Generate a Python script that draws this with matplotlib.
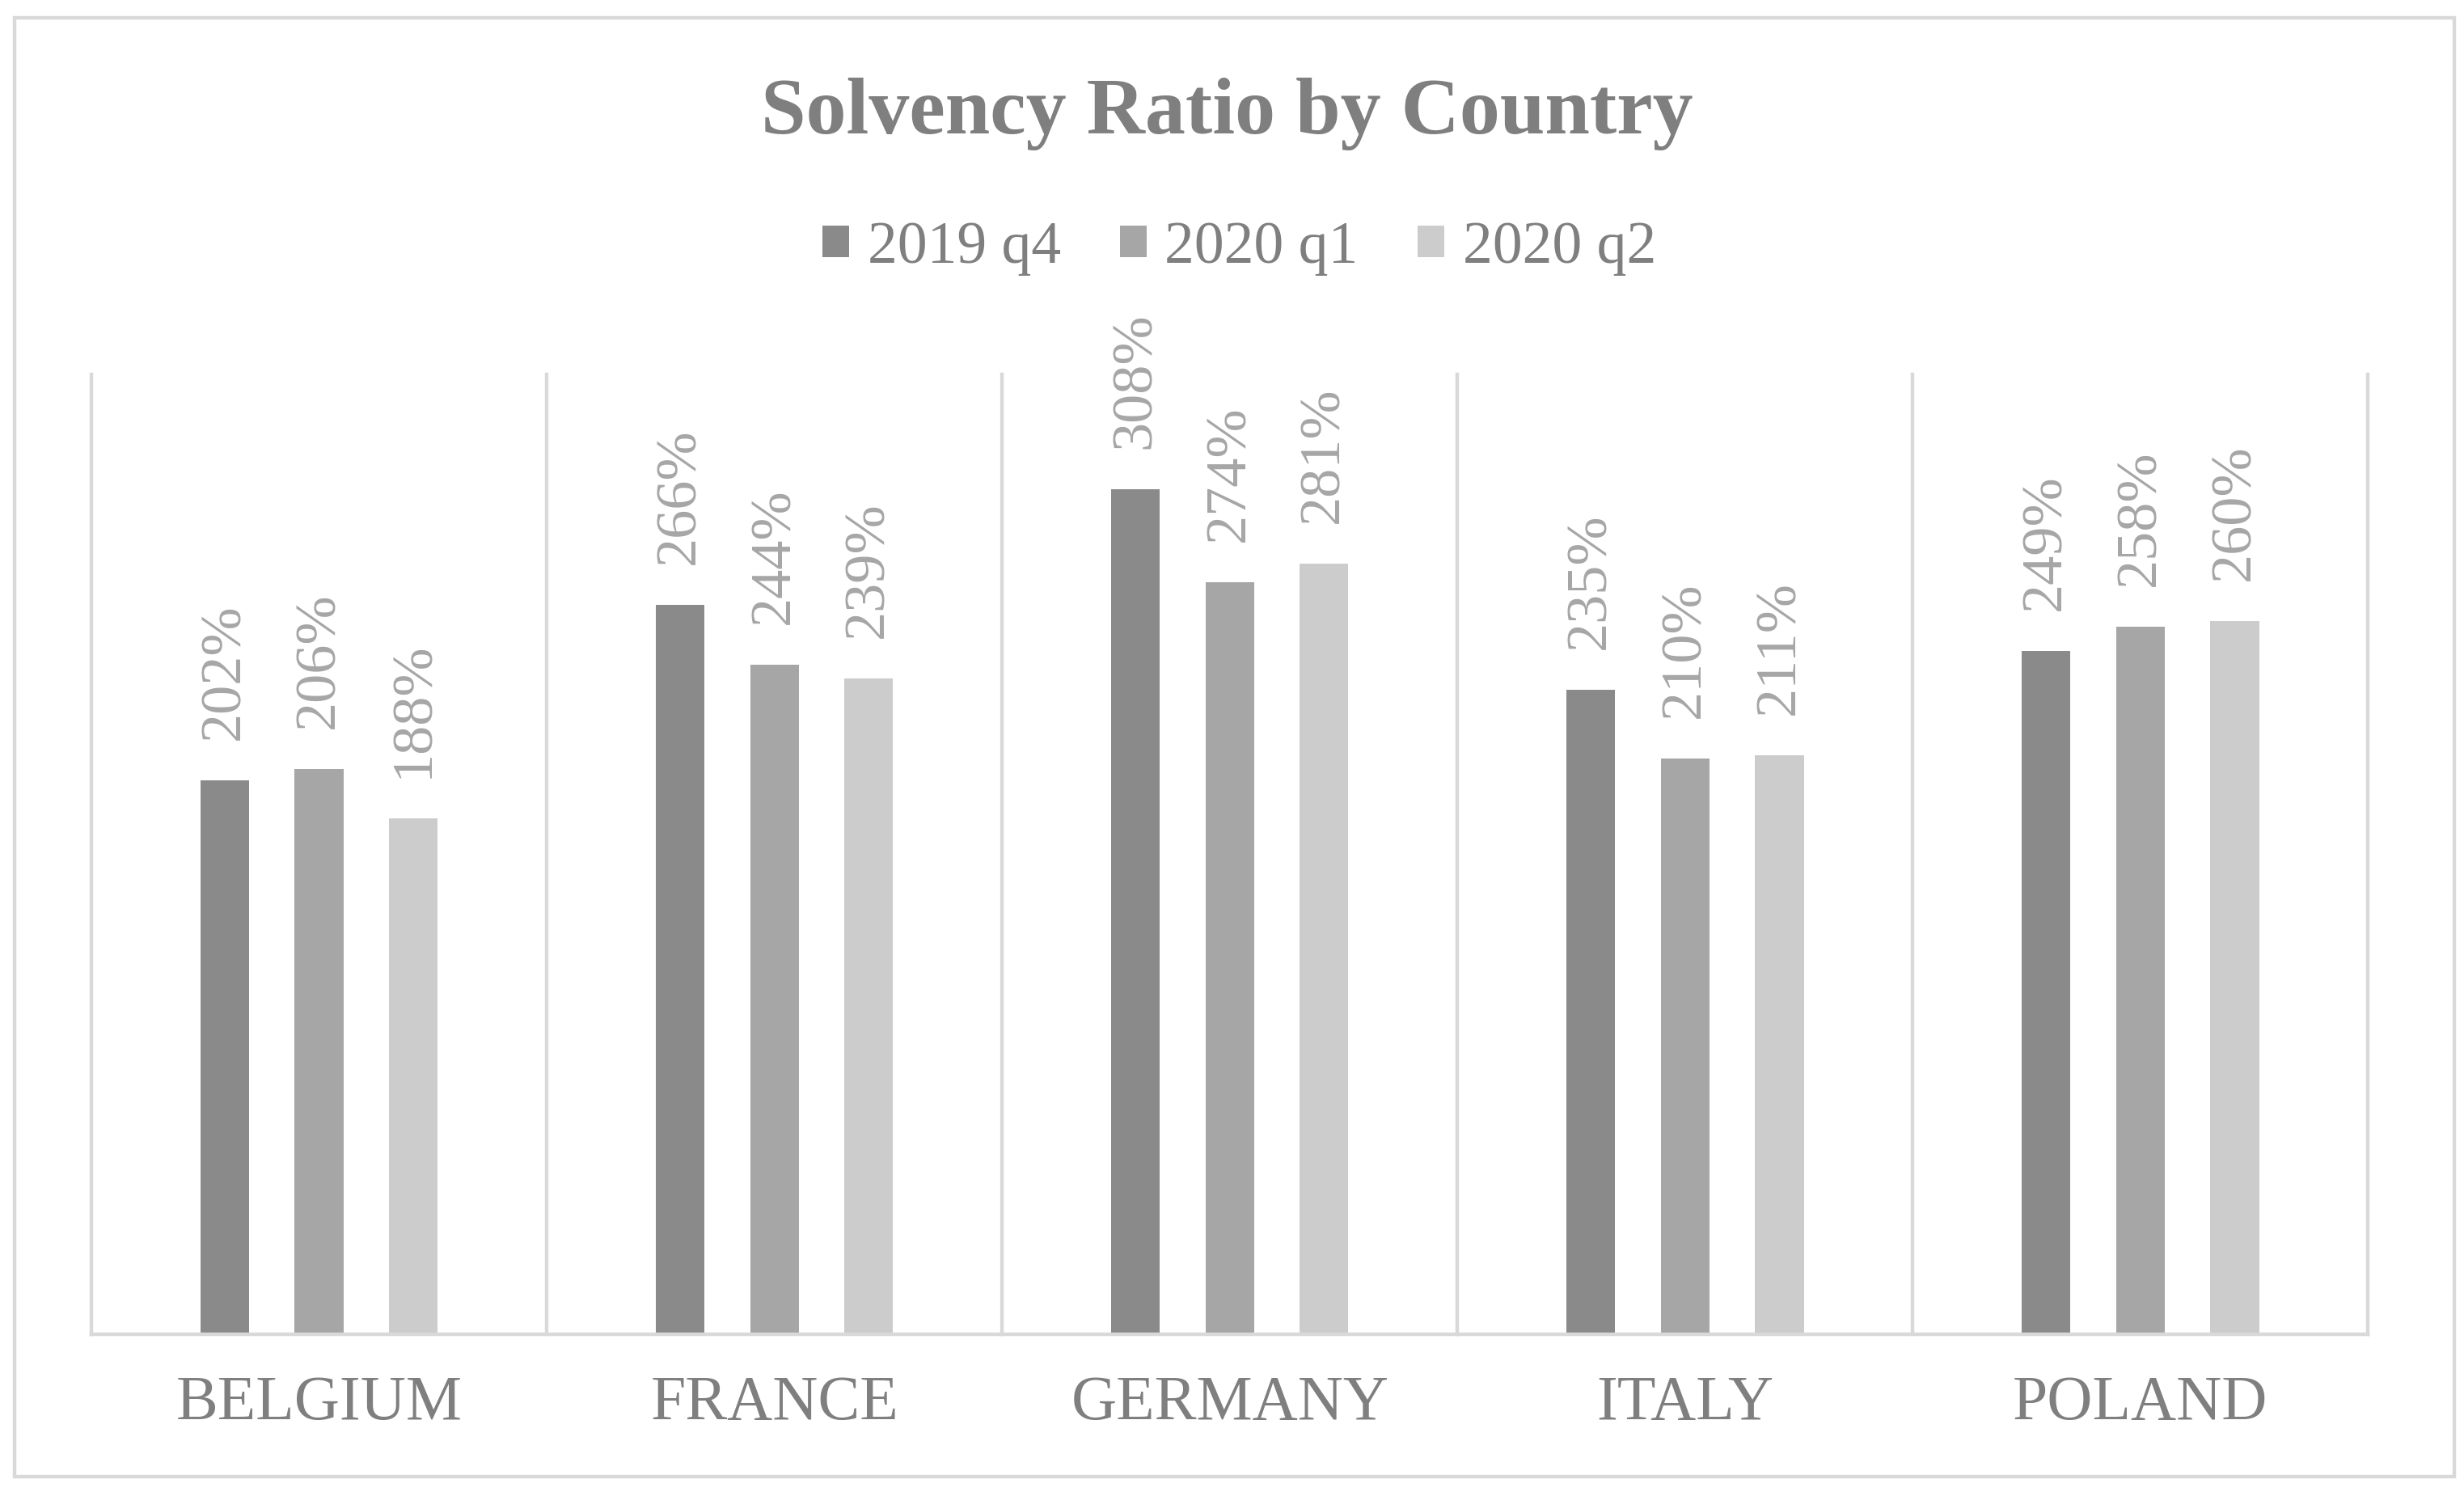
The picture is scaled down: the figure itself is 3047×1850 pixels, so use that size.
import matplotlib
matplotlib.use("Agg")
import matplotlib.pyplot as plt
from matplotlib.patches import Rectangle
import numpy as np

countries = ["BELGIUM", "FRANCE", "GERMANY", "ITALY", "POLAND"]
series = ["2019 q4", "2020 q1", "2020 q2"]
q4_2019 = [202, 266, 308, 235, 249]
q1_2020 = [206, 244, 274, 210, 258]
q2_2020 = [188, 239, 281, 211, 260]
colors = ["#8a8a8a", "#a6a6a6", "#cccccc"]

plt.rcParams["font.family"] = ["Liberation Serif", "DejaVu Serif"]
grid_col = "#d9d9d9"
text_col = "#7f7f7f"

fig = plt.figure(figsize=(30.47, 18.5), dpi=100)
ax = fig.add_axes([0.0371, 0.108, 0.924, 0.642])

x = np.arange(len(countries))
width = 0.107
step = 0.207
for i, (vals, name) in enumerate(zip([q4_2019, q1_2020, q2_2020], series)):
    pos = x + (i - 1) * step
    bars = ax.bar(pos, np.array(vals) / 100, width, color=colors[i], label=name, zorder=3)
    for b, v in zip(bars, vals):
        ax.annotate(f"{v}%", (b.get_x() + b.get_width() / 2, b.get_height()),
                    xytext=(0, 36), textcoords="offset points",
                    rotation=90, ha="center", va="bottom",
                    fontsize=52, color="#a6a6a6")

ax.set_xlim(-0.5, len(countries) - 0.5)
ax.set_ylim(0, 3.5)

# category separators
for b in np.arange(len(countries) + 1) - 0.5:
    ax.axvline(b, color=grid_col, lw=3.2, zorder=1, clip_on=False)

for s in ["top", "left", "right"]:
    ax.spines[s].set_visible(False)
ax.spines["bottom"].set_color(grid_col)
ax.spines["bottom"].set_linewidth(3.2)
ax.spines["bottom"].set_zorder(4)

ax.set_yticks([])
ax.set_xticks(x)
ax.set_xticklabels(countries, fontsize=56, color=text_col)
ax.tick_params(axis="x", length=0, pad=36)

fig.text(0.498, 0.924, "Solvency Ratio by Country", ha="center", va="center",
         fontsize=72, fontweight="bold", color=text_col)

fig.legend(loc="center", bbox_to_anchor=(0.503, 0.834), ncol=3, frameon=False,
           fontsize=53, labelcolor=text_col, handlelength=0.45, handleheight=0.45,
           handletextpad=0.3, columnspacing=1.0)

fig.patches.append(Rectangle((0.006, 0.013), 0.99, 0.975, transform=fig.transFigure,
                             fill=False, edgecolor=grid_col, lw=3.2))

fig.savefig("out.png", dpi=100, facecolor="white")
